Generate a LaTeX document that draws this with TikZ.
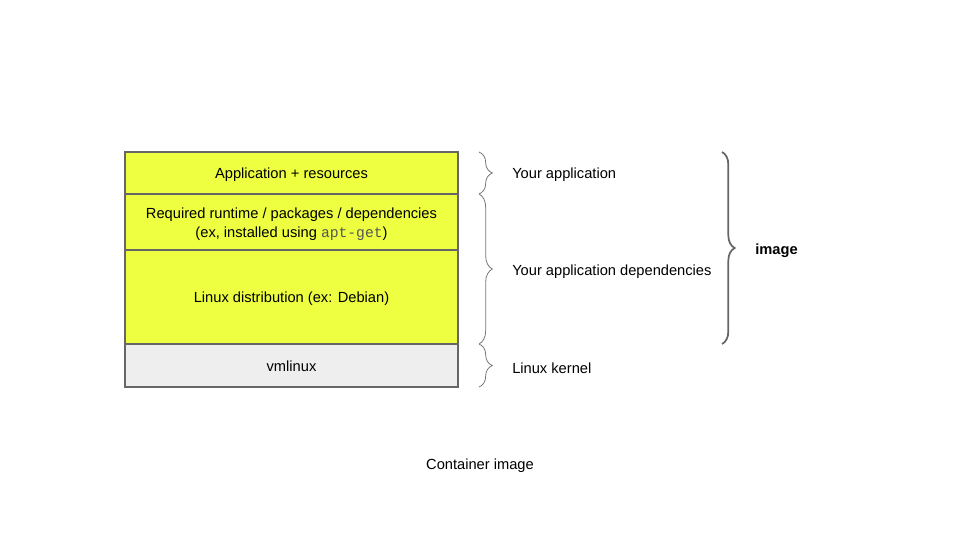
\documentclass[tikz,border=0pt]{standalone}
\usepackage{fontspec}
\setmainfont{Liberation Sans}
\setmonofont{Liberation Mono}
\usetikzlibrary{positioning,decorations.pathreplacing}
\definecolor{layeryellow}{HTML}{EEFF41}
\definecolor{layergrey}{HTML}{EEEEEE}
\definecolor{edgegrey}{HTML}{666666}
\definecolor{bracegrey}{HTML}{777777}
\definecolor{codegrey}{HTML}{555555}

\begin{document}
\begin{tikzpicture}[x=0.75pt,y=-0.75pt,node distance=0pt,
                    every node/.style={font=\fontsize{11}{13.5}\selectfont},
                    layer/.style={draw=edgegrey,line width=1.1pt,fill=layeryellow,
                                  minimum width=249.75pt,outer sep=0pt,align=center,
                                  inner sep=0pt},
                    oneline/.style={text height=10.5pt,text depth=2pt},
                    smallbrace/.style={draw=bracegrey,line width=0.6pt,
                                  decorate,decoration={brace,amplitude=10pt}},
                    bigbrace/.style={draw=edgegrey,line width=1.3pt,
                                  decorate,decoration={brace,amplitude=9.5pt}},
                    label/.style={anchor=west,inner sep=0pt}]

  \useasboundingbox (0,0) rectangle (960,540);

  \node[layer,oneline,minimum height=31.5pt,anchor=north west] (app) at (125,152)
       {Application + resources};
  \node[layer,minimum height=42pt]   (runtime) [below=of app]
       {\rule{0pt}{11pt}Required runtime / packages / dependencies\\[1pt]
        (ex, installed using {\ttfamily\color{codegrey}apt-get})};
  \node[layer,oneline,minimum height=70.5pt] (distro)  [below=of runtime]
       {Linux distribution (ex: Debian)};
  \node[layer,oneline,minimum height=32.25pt,fill=layergrey] (kernel) [below=of distro]
       {vmlinux};

  \coordinate (b0) at (479,152);
  \coordinate (b1) at (479,194);
  \coordinate (b2) at (479,344);
  \coordinate (b3) at (479,387);
  \coordinate (c0) at (722,152);
  \coordinate (c1) at (722,344);

  \draw[smallbrace] (b0) -- (b1);
  \draw[smallbrace] (b1) -- (b2);
  \draw[smallbrace] (b2) -- (b3);
  \draw[bigbrace]   (c0) -- (c1);

  \node[label] (yourapp) at (512,174.5) {Your application};
  \node[label] (deps)    at (512,271.5) {Your application dependencies};
  \node[label] (linux)   at (512,368.5) {Linux kernel};
  \node[label,font=\fontsize{11}{13.5}\selectfont\bfseries] (image) at (755,250.5) {image};

  \node (caption) at (480,465.5) {Container image};
\end{tikzpicture}
\end{document}
